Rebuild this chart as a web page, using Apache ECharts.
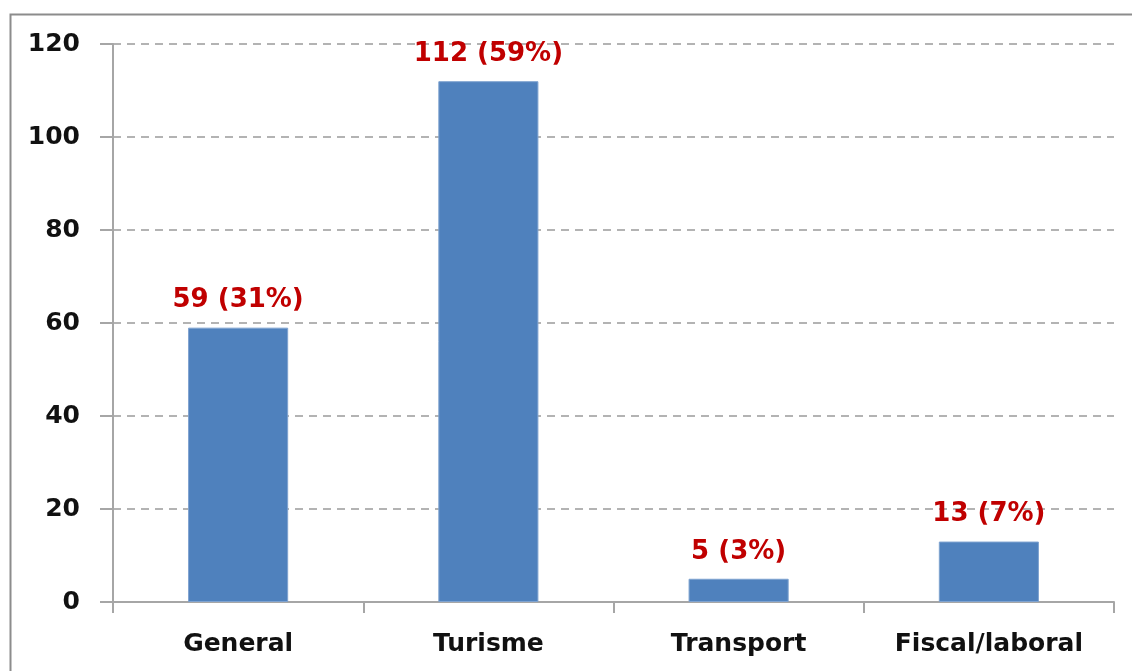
<!DOCTYPE html>
<html><head><meta charset="utf-8">
<script src="https://cdn.jsdelivr.net/npm/echarts@6/dist/echarts.min.js"></script>
<style>html,body{margin:0;padding:0;background:#fff}#c{width:1132px;height:671px}</style>
</head><body><div id="c"></div>
<script>
const categories = ["General", "Turisme", "Transport", "Fiscal/laboral"];
const values = [59, 112, 5, 13];
const labels = ["59 (31%)", "112 (59%)", "5 (3%)", "13 (7%)"];
const yTicks = [0, 20, 40, 60, 80, 100, 120];

const chart = echarts.init(document.getElementById('c'));
chart.setOption({
  animation: false,
  graphic: [{
    type: 'rect', left: 8, top: 12, shape: {x: 0, y: 0, width: 1200, height: 700},
    style: {fill: 'none', stroke: '#8c8c8c', lineWidth: 2}, silent: true, z: -1
  }],
  grid: {left: 113, right: 18, top: 44, bottom: 69},
  xAxis: {
    type: 'category', data: categories,
    axisLine: {lineStyle: {color: '#a6a6a6', width: 2}},
    axisTick: {show: true, interval: 0, length: 11, alignWithLabel: false, lineStyle: {color: '#a6a6a6', width: 2}},
    axisLabel: {interval: 0, hideOverlap: false, color: '#111', fontFamily: 'DejaVu Sans', fontWeight: 'bold', fontSize: 25, margin: 30}
  },
  yAxis: {
    type: 'value', min: 0, max: 120, interval: 20,
    axisLine: {show: true, lineStyle: {color: '#a6a6a6', width: 2}},
    axisTick: {show: true, length: 13, lineStyle: {color: '#a6a6a6', width: 2}},
    axisLabel: {color: '#111', fontFamily: 'DejaVu Sans', fontWeight: 'bold', fontSize: 25, margin: 33,
      formatter: v => yTicks.includes(v) ? String(v) : ''},
    splitLine: {show: true, lineStyle: {color: '#9a9a9a', type: [8, 6], width: 1.5}}
  },
  series: [{
    type: 'bar', data: values, barWidth: '40%',
    itemStyle: {color: '#4f81bd', borderColor: '#7fa3d0', borderWidth: 1},
    label: {show: true, position: 'top', distance: 14, color: '#c00000', fontFamily: 'DejaVu Sans',
      fontWeight: 'bold', fontSize: 26, formatter: p => labels[p.dataIndex]}
  }]
});
</script></body></html>
